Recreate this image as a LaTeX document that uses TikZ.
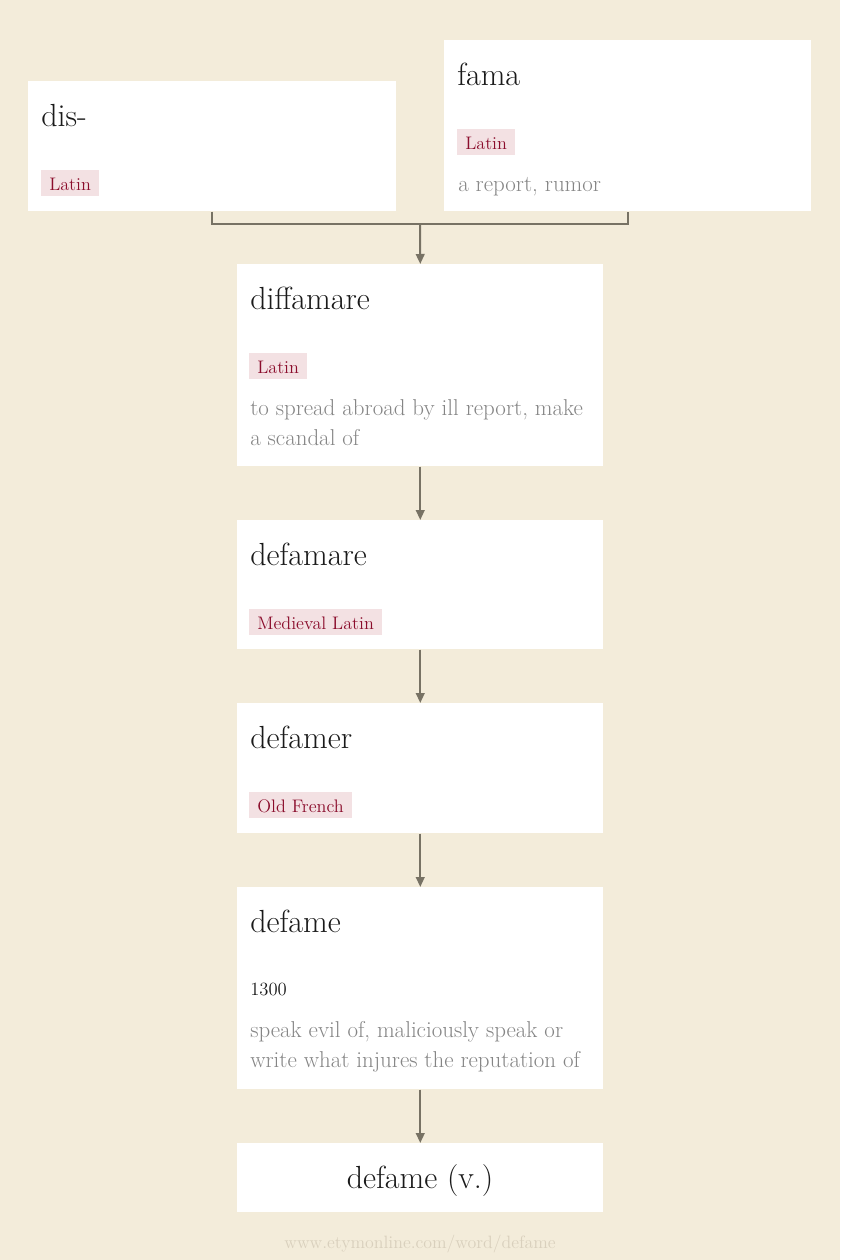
\documentclass[tikz,border=0pt]{standalone}
\usepackage{xcolor}
\usetikzlibrary{arrows.meta}

\definecolor{paper}{HTML}{F3ECDA}
\definecolor{ink}{HTML}{1A1A1A}
\definecolor{tagred}{HTML}{8B0D2C}
\definecolor{tagfill}{HTML}{F3E1E3}
\definecolor{glossgray}{HTML}{858585}
\definecolor{linkgray}{HTML}{777264}
\definecolor{footgray}{HTML}{D9D0BD}

\begin{document}
\begin{tikzpicture}[x=0.75pt,y=0.75pt,yscale=-1,xscale=1,
  card/.style={fill=white,draw=none,inner sep=0pt,anchor=north west},
  word/.style={anchor=base west,inner sep=0pt,text=ink,font=\fontsize{24}{28}\selectfont},
  tag/.style={anchor=base west,fill=tagfill,text=tagred,inner xsep=6pt,inner ysep=0pt,
    text height=15pt,text depth=4.2pt,font=\fontsize{13.6}{16}\selectfont},
  gloss/.style={anchor=base west,inner sep=0pt,text=glossgray,align=left,
    font=\fontsize{17.2}{22.5}\selectfont},
  link/.style={draw=linkgray,line width=1.5pt},
  arrow/.style={link,-{Triangle[length=7.5pt,width=6.5pt]}}]

\useasboundingbox[fill=paper] (0,0) rectangle (840,1260);

% boxes
\node (dis) [card,minimum width=276pt,minimum height=97.5pt] at (28,81) {};
\node (fama) [card,minimum width=275.25pt,minimum height=128.25pt] at (444,40) {};
\node (diffamare) [card,minimum width=274.5pt,minimum height=151.5pt] at (237,264) {};
\node (defamare) [card,minimum width=274.5pt,minimum height=96.75pt] at (237,520) {};
\node (defamer) [card,minimum width=274.5pt,minimum height=97.5pt] at (237,703) {};
\node (defame) [card,minimum width=274.5pt,minimum height=151.5pt] at (237,887) {};
\node (defamev) [card,minimum width=274.5pt,minimum height=51.75pt] at (237,1143) {};

% texts
\node (dist) [word] at (41,126) {dis-};
\node (distag) [tag] at (41,190) {Latin};

\node (famat) [word] at (457,85) {fama};
\node (famatag) [tag] at (457,149) {Latin};
\node (famag) [gloss] at (458,191) {a report, rumor};

\node (diffamaret) [word] at (250,309) {diffamare};
\node (diffamaretag) [tag] at (249,373) {Latin};
\node (diffamareg) [gloss] at (250,445) {to spread abroad by ill report, make\\a scandal of};

\node (defamaret) [word] at (250,565) {defamare};
\node (defamaretag) [tag] at (249,629) {Medieval Latin};

\node (defamert) [word] at (250,748) {defamer};
\node (defamertag) [tag] at (249,812) {Old French};

\node (defamet) [word] at (250,932) {defame};
\node (defamey) [anchor=base west,inner sep=0pt,text=ink,font=\fontsize{14}{16}\selectfont] at (250,995) {1300};
\node (defameg) [gloss] at (250,1067) {speak evil of, maliciously speak or\\write what injures the reputation of};

\node (defamevt) [word,anchor=base] at (420,1188) {defame (v.)};

\node (site) [anchor=base,inner sep=0pt,text=footgray,font=\fontsize{13.4}{16}\selectfont] at (420,1248) {www.etymonline.com/word/defame};

% connectors
\coordinate (merge) at (420,224);
\draw [link] (dis.south) |- (merge) -| (fama.south);
\draw [arrow] (merge) -- (diffamare.north);
\draw [arrow] (diffamare.south) -- (defamare.north);
\draw [arrow] (defamare.south) -- (defamer.north);
\draw [arrow] (defamer.south) -- (defame.north);
\draw [arrow] (defame.south) -- (defamev.north);

\end{tikzpicture}
\end{document}
